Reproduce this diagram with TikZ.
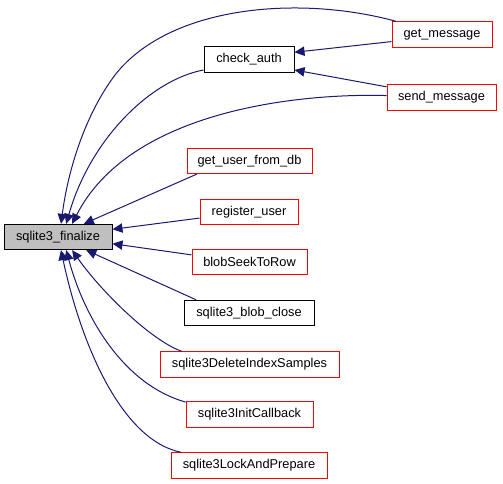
\documentclass[tikz,border=0pt]{standalone}
\usepackage{fontspec}
\setmainfont{Liberation Sans}
\usetikzlibrary{arrows.meta}
\definecolor{edgeblue}{HTML}{191970}
\definecolor{boxgray}{HTML}{BFBFBF}
\tikzset{
  fnbox/.style={draw=black, line width=0.75pt, rectangle, minimum height=19pt,
    inner sep=2pt, font=\fontsize{9.6}{11}\selectfont},
  callerbox/.style={fnbox, draw=red},
  callarrow/.style={draw=edgeblue, line width=0.75pt,
    -{Triangle[length=7.5pt,width=7pt]}, fill=none},
}
\begin{document}
\begin{tikzpicture}[x=0.75pt, y=-0.75pt]
    \useasboundingbox (0,0) rectangle (503,484);

    % Function that is called
    \node[fnbox, fill=boxgray, minimum width=81pt] (finalize) at (58,237) {sqlite3\_finalize};

    % Callers
    \node[fnbox, minimum width=67.5pt] (checkauth) at (249,59.5) {check\_auth};
    \node[callerbox, minimum width=75pt] (getmsg) at (442,34.5) {get\_message};
    \node[callerbox, minimum width=81.75pt] (sendmsg) at (441.5,97.5) {send\_message};
    \node[callerbox, minimum width=93.75pt] (getuser) at (249.5,161) {get\_user\_from\_db};
    \node[callerbox, minimum width=73.5pt] (reguser) at (249,212) {register\_user};
    \node[callerbox, minimum width=86.25pt] (blobseek) at (249.5,262) {blobSeekToRow};
    \node[fnbox, minimum width=97.5pt] (blobclose) at (249,313) {sqlite3\_blob\_close};
    \node[callerbox, minimum width=134.25pt] (delidx) at (249.5,364.5) {sqlite3DeleteIndexSamples};
    \node[callerbox, minimum width=95.25pt] (initcb) at (249.5,414.5) {sqlite3InitCallback};
    \node[callerbox, minimum width=117pt] (lockprep) at (249,465.5) {sqlite3LockAndPrepare};

    % Calls into sqlite3_finalize
    \draw[callarrow] (getmsg.164) .. controls (300,-5) and (170,5) .. (115,75)
        .. controls (85,115) and (68,170) .. (finalize.77);
    \draw[callarrow] (checkauth.193) .. controls (150,80) and (90,140) .. (finalize.58);
    \draw[callarrow] (sendmsg.178) .. controls (300,93) and (130,110) .. (finalize.43);
    \draw[callarrow] (getuser.194) -- (finalize.27);
    \draw[callarrow] (reguser.187) -- (finalize.8);
    \draw[callarrow] (blobseek.173) -- (finalize.-7);
    \draw[callarrow] (blobclose.166) -- (finalize.-25);
    \draw[callarrow] (delidx.169) .. controls (150,340) and (100,290) .. (finalize.-43);
    \draw[callarrow] (initcb.169) .. controls (125,385) and (85,320) .. (finalize.-58);
    \draw[callarrow] (lockprep.169) .. controls (120,440) and (80,340) .. (finalize.-77);

    % Calls into check_auth
    \draw[callarrow] (getmsg.188) -- (checkauth.9);
    \draw[callarrow] (sendmsg.169) -- (checkauth.-13);

\end{tikzpicture}
\end{document}
